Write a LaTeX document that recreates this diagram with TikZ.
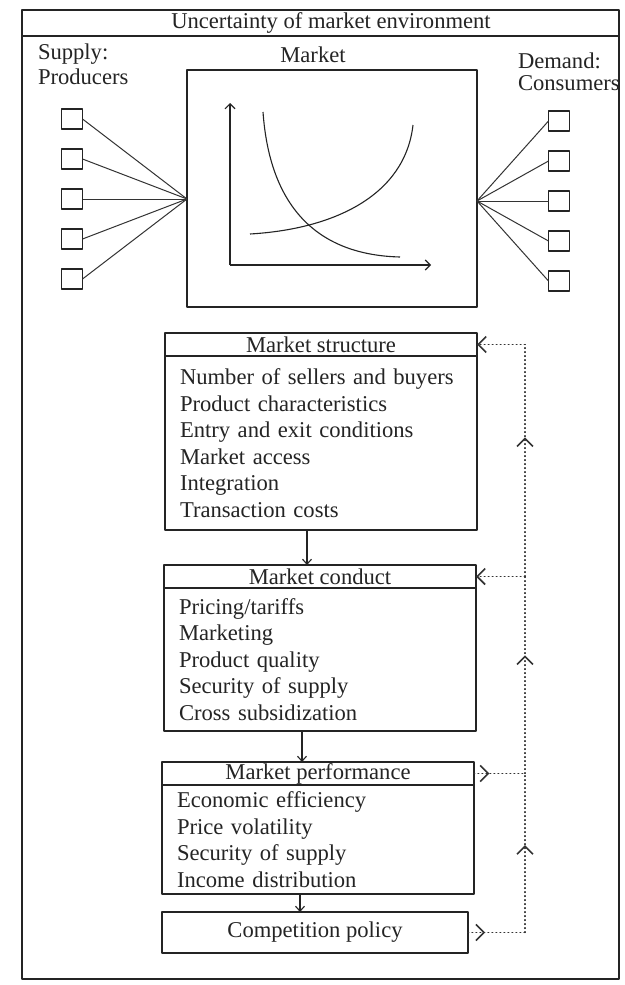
\documentclass[tikz,border=0pt]{standalone}
\usepackage{fontspec}
\setmainfont{Liberation Serif}
\usetikzlibrary{arrows.meta,positioning,decorations.markings}
\definecolor{ScanInk}{gray}{0.14}
\definecolor{ScanLine}{gray}{0.2}
\tikzset{
    scp/diagram/.style={
        x=1pt, y=-1pt,
        font=\fontsize{22.6}{26.5}\selectfont,
        draw=ScanInk,
        text=ScanInk,
        line width=0.9pt,
        line join=round,
        every node/.style={inner sep=0pt, outer sep=0pt}
    },
    scp/frame/.style={draw=ScanInk, line width=1.3pt},
    scp/panel/.style={draw=ScanInk, line width=1.3pt},
    scp/agent/.style={
        draw=ScanInk, line width=1.2pt,
        minimum width=21pt, minimum height=20pt
    },
    scp/link/.style={draw=ScanLine, line width=1pt},
    scp/axis/.style={
        draw=ScanInk, line width=1.1pt,
        -{Straight Barb[length=5pt, width=10pt]}
    },
    scp/curve/.style={draw=ScanInk, line width=1.1pt},
    scp/head/.style={
        draw=ScanInk, line width=1.2pt,
        minimum width=312pt, minimum height=23pt
    },
    scp/body/.style={
        draw=ScanInk, line width=1.2pt,
        text width=282pt, inner xsep=15pt, inner ysep=4pt,
        align=left
    },
    scp/flow/.style={
        draw=ScanInk, line width=1.1pt,
        -{Straight Barb[length=5pt, width=9pt]}
    },
    scp/feedback/.style={
        draw=ScanLine, line width=1.3pt, line cap=round,
        dash pattern=on 0.8pt off 3.2pt
    },
    scp/tip/.style={-{Straight Barb[length=8pt, width=16pt, line width=1.6pt]}},
    scp/midtip/.style={
        postaction={decorate},
        decoration={markings,
            mark=at position #1 with {\arrow{Straight Barb[length=8pt, width=16pt, line width=1.6pt]}}}
    }
}

\begin{document}
\begin{tikzpicture}[scp/diagram]
    \useasboundingbox (0,0) rectangle (624,985);
    \fill[white] (0,0) rectangle (624,985);

    % outer frame and title row
    \draw[scp/frame] (22,10) rectangle (619,979);
    \draw[scp/frame] (22,36) -- (619,36);
    \node (title) at (331,23) {Uncertainty of market environment};

    \node[anchor=west, align=left] (supply) at (38,64) {Supply:\\[-1.5pt]Producers};
    \node (marketlabel) at (313,55) {Market};
    \node[anchor=west, align=left] (demand) at (518,72) {Demand:\\[-5pt]Consumers};

    % market with supply and demand curves
    \node[scp/panel, minimum width=290pt, minimum height=237pt] (market) at (332,188.5) {};
    \coordinate (origin) at (230,265);
    \draw[scp/axis] (origin) -- (230,103);
    \draw[scp/axis] (origin) -- (431,265);
    \draw[scp/curve] (263,112) .. controls (270,210) and (320,255) .. (400,257);
    \draw[scp/curve] (250,234) .. controls (335,229) and (405,195) .. (413,125);

    % producers and consumers
    \foreach \i in {1,...,5} {
        \node[scp/agent] (prod\i) at (72,79+40*\i) {};
        \node[scp/agent] (cons\i) at (559,81+40*\i) {};
    }
    \foreach \i in {1,...,5} {
        \draw[scp/link] (prod\i.east) -- (prod3.east -| market.west);
        \draw[scp/link] (cons\i.west) -- (cons3.west -| market.east);
    }

    % structure - conduct - performance
    \node[scp/head, anchor=north] (struct) at (321,333) {Market structure};
    \node[scp/body, below=0pt of struct, minimum height=174pt] (structbody)
        {Number of sellers and buyers\\Product characteristics\\Entry and exit conditions\\Market access\\Integration\\Transaction costs};
    \node[scp/head, anchor=north] (conduct) at (320,565) {Market conduct};
    \node[scp/body, below=0pt of conduct, minimum height=143pt] (conductbody)
        {Pricing/tariffs\\Marketing\\Product quality\\Security of supply\\Cross subsidization};
    \node[scp/head, anchor=north] (perf) at (318,762) {Market performance};
    \node[scp/body, below=0pt of perf, minimum height=109pt] (perfbody)
        {Economic efficiency\\Price volatility\\Security of supply\\Income distribution};
    \node[scp/head, anchor=north, minimum width=306pt, minimum height=41pt] (policy) at (315,912)
        {Competition policy};

    \draw[scp/flow] ([xshift=-14pt]structbody.south) -- ([xshift=-14pt]structbody.south |- conduct.north);
    \draw[scp/flow] ([xshift=-18pt]conductbody.south) -- ([xshift=-18pt]conductbody.south |- perf.north);
    \draw[scp/flow] ([xshift=-18pt]perfbody.south) -- ([xshift=-18pt]perfbody.south |- policy.north);

    % feedback loop
    \coordinate (loop) at (525,0);
    \draw[scp/feedback, scp/midtip=0.3] (perf.east) -- (perf.east -| loop);
    \draw[scp/feedback, scp/midtip=0.3] (policy.east) -- (policy.east -| loop);
    \draw[scp/feedback, scp/midtip=0.55] (policy.east -| loop) -- (perf.east -| loop);
    \draw[scp/feedback, scp/midtip=0.6] (perf.east -| loop) -- (conduct.east -| loop);
    \draw[scp/feedback, scp/midtip=0.6] (conduct.east -| loop) -- (struct.east -| loop);
    \draw[scp/feedback, scp/tip] (conduct.east -| loop) -- (conduct.east);
    \draw[scp/feedback, scp/tip] (struct.east -| loop) -- (struct.east);
\end{tikzpicture}
\end{document}
